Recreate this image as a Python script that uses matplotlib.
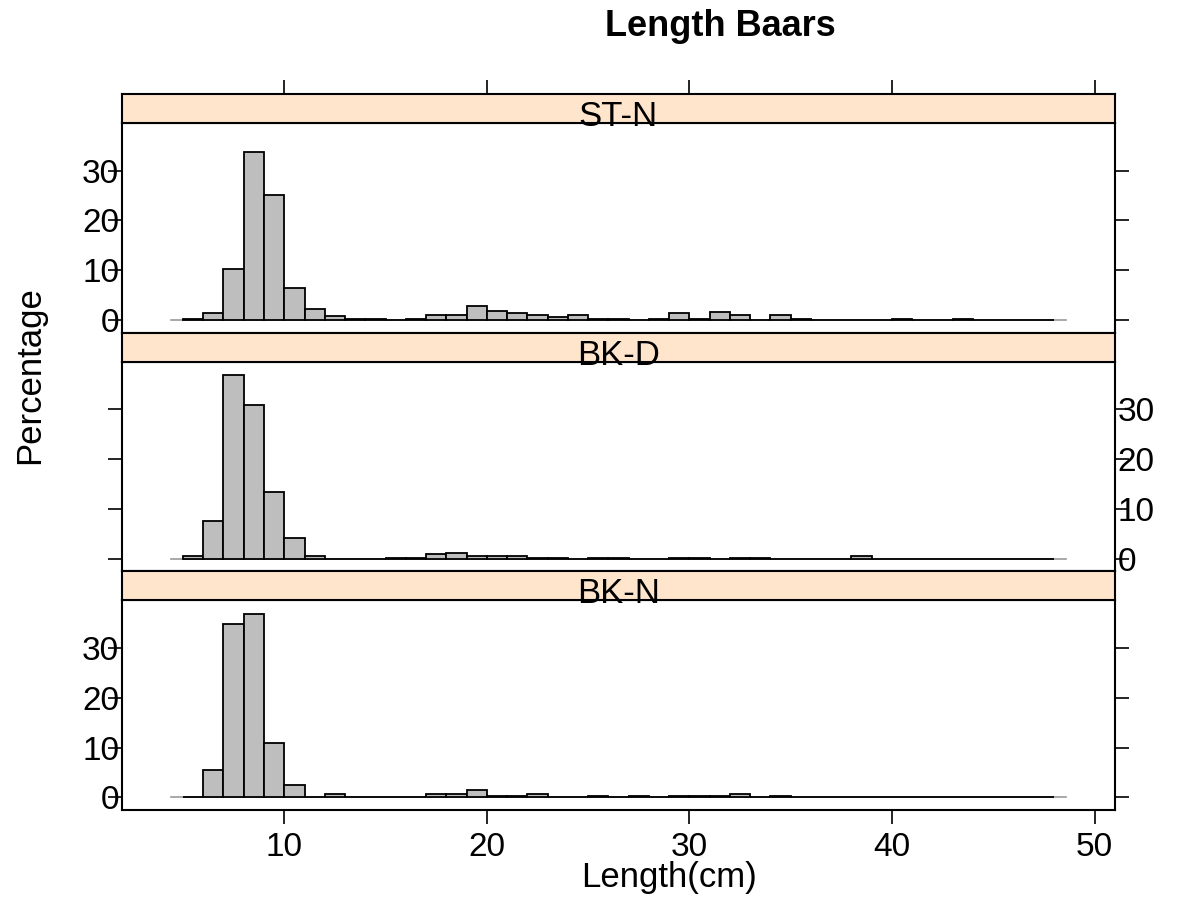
import matplotlib.pyplot as plt
import numpy as np

plt.rcParams['font.family'] = ['Liberation Sans', 'DejaVu Sans']

# histogram breaks (1 cm classes) and percentage per class
breaks = np.arange(5, 49)
panels = ["ST-N", "BK-D", "BK-N"]

st_n = [0.1, 1.3, 10.3, 33.8, 25.2, 6.4, 2.1, 0.7, 0.2, 0.2,
        0.0, 0.25, 0.9, 0.9, 2.75, 1.8, 1.3, 0.9, 0.6, 0.9,
        0.2, 0.2, 0.0, 0.2, 1.3, 0.2, 1.5, 0.9, 0.0, 0.9,
        0.2, 0.05, 0.05, 0.05, 0.05, 0.25, 0.05, 0.05, 0.25, 0.0,
        0.0, 0.0, 0.0]
bk_d = [0.5, 7.5, 37.0, 30.9, 13.3, 4.2, 0.5, 0.0, 0.0, 0.0,
        0.2, 0.2, 0.9, 1.2, 0.5, 0.5, 0.5, 0.2, 0.2, 0.0,
        0.2, 0.2, 0.0, 0.0, 0.2, 0.2, 0.0, 0.2, 0.2, 0.0,
        0.0, 0.0, 0.0, 0.6, 0.0, 0.0, 0.0, 0.0, 0.0, 0.0,
        0.0, 0.0, 0.0]
bk_n = [0.0, 5.5, 34.9, 36.8, 11.0, 2.4, 0.0, 0.6, 0.0, 0.0,
        0.0, 0.0, 0.6, 0.6, 1.5, 0.3, 0.3, 0.6, 0.0, 0.0,
        0.3, 0.0, 0.3, 0.0, 0.3, 0.3, 0.3, 0.6, 0.0, 0.3,
        0.0, 0.0, 0.0, 0.0, 0.0, 0.0, 0.0, 0.0, 0.0, 0.0,
        0.0, 0.0, 0.0]
heights = [st_n, bk_d, bk_n]

x_ticks = [10, 20, 30, 40, 50]
y_ticks = [0, 10, 20, 30]
data_span = [4.4, 48.6]

W, H = 1182, 917
fig = plt.figure(figsize=(W / 100, H / 100), dpi=100)

def box(x0, y0, x1, y1):
    # pixel box (top-left origin) -> figure fraction
    return [x0 / W, 1 - y1 / H, (x1 - x0) / W, (y1 - y0) / H]

pad = 0.07
xlo, xhi = breaks[0], breaks[-1]
xlim = (xlo - pad * (xhi - xlo), xhi + pad * (xhi - xlo))
ymax = max(max(h) for h in heights)
ylim = (-pad * ymax, (1 + pad) * ymax)

left, right = 122, 1115
top0, strip_h, panel_h = 94, 29, 209.7
tick_len = 10
fs = 24

for i, (name, h) in enumerate(zip(panels, heights)):
    y0 = top0 + i * (strip_h + panel_h)

    # panel
    ax = fig.add_axes(box(left, y0 + strip_h, right, y0 + strip_h + panel_h))
    ax.plot(data_span, [0, 0], color='#999999', lw=1.2, zorder=1)
    ax.bar(breaks[:-1], h, width=np.diff(breaks), align='edge', color='#BEBEBE',
           edgecolor='black', linewidth=1.3, zorder=2)
    ax.set_xlim(xlim)
    ax.set_ylim(ylim)
    ax.set_yticks(y_ticks)
    ax.set_xticks(x_ticks)
    labels_left = (i % 2 == 0)
    ax.tick_params(axis='y', left=True, right=True, labelleft=labels_left,
                   labelright=not labels_left, direction='out', length=tick_len,
                   width=1.2, labelsize=fs, pad=-8)
    if i == len(panels) - 1:
        ax.tick_params(axis='x', bottom=True, top=False, labelbottom=True,
                       direction='out', length=tick_len, width=1.2, labelsize=fs, pad=6)
    else:
        ax.tick_params(axis='x', bottom=False, top=False, labelbottom=False)
    for s in ax.spines.values():
        s.set_linewidth(1.5)

    # strip on top of the panel so its label may overhang
    sax = fig.add_axes(box(left, y0, right, y0 + strip_h))
    sax.set_zorder(3)
    sax.set_facecolor('#FFE5CC')
    sax.set_xlim(xlim)
    sax.set_ylim(0, 1)
    sax.set_yticks([])
    if i == 0:
        sax.set_xticks(x_ticks)
        sax.tick_params(axis='x', bottom=False, top=True, labelbottom=False,
                        labeltop=False, direction='out', length=tick_len, width=1.2)
    else:
        sax.set_xticks([])
    for s in sax.spines.values():
        s.set_linewidth(1.5)
    sax.text(0.5, -0.1, name, transform=sax.transAxes, ha='center', va='baseline',
             fontsize=fs + 1, clip_on=False, zorder=5)

fig.text(720 / W, 1 - 27 / H, "Length Baars", ha='center', va='center',
         fontsize=26, fontweight='bold')
fig.text(669 / W, 1 - 878 / H, "Length(cm)", ha='center', va='center', fontsize=25)
fig.text(30 / W, 1 - 375 / H, "Percentage", ha='center', va='center', fontsize=25,
         rotation=90)

fig.savefig("out.png", dpi=100)
